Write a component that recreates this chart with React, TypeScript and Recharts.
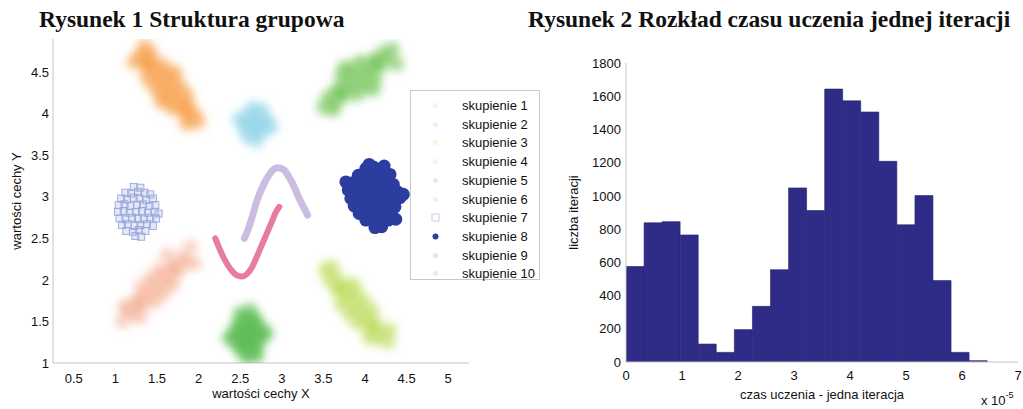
import React from "react";
import { ScatterChart, Scatter, BarChart, Bar, XAxis, YAxis, Legend, Label } from "recharts";

// ---- Rysunek 1: clusters ----
const clusterNames = [
  "skupienie 1", "skupienie 2", "skupienie 3", "skupienie 4", "skupienie 5",
  "skupienie 6", "skupienie 7", "skupienie 8", "skupienie 9", "skupienie 10",
];
const clusterColors = [
  "#8fd4e8", "#f59a45", "#b7d94e", "#c5b6de", "#e66d99",
  "#f4a88c", "#98a8dc", "#2b3d9e", "#52b84a", "#6cc24f",
];

const cluster1 = [
  [2.64, 3.74], [2.72, 3.74],
  [2.56, 3.81], [2.64, 3.81], [2.72, 3.81], [2.8, 3.81],
  [2.52, 3.88], [2.6, 3.88], [2.68, 3.88], [2.76, 3.88], [2.84, 3.88],
  [2.56, 3.95], [2.64, 3.95], [2.72, 3.95], [2.8, 3.95],
  [2.62, 4.02], [2.7, 4.02],
  [2.7, 3.66], [2.48, 3.95], [2.88, 3.84], [2.66, 4.08], [2.78, 4.05], [2.58, 3.72],
];
const cluster2 = [
  [1.284, 4.676], [1.346, 4.726],
  [1.36, 4.583], [1.391, 4.608], [1.422, 4.633],
  [1.375, 4.44], [1.437, 4.491], [1.499, 4.541], [1.561, 4.592],
  [1.451, 4.347], [1.513, 4.398], [1.575, 4.448], [1.637, 4.499],
  [1.527, 4.254], [1.589, 4.305], [1.651, 4.355], [1.713, 4.406],
  [1.603, 4.161], [1.665, 4.212], [1.727, 4.262], [1.789, 4.313],
  [1.679, 4.068], [1.741, 4.119], [1.803, 4.169], [1.865, 4.22],
  [1.818, 4.027], [1.849, 4.052], [1.88, 4.077],
  [1.894, 3.934], [1.956, 3.984],
  [1.22, 4.62], [1.35, 4.82], [1.72, 4.5], [1.55, 4.15], [2.0, 3.9], [1.85, 3.88], [1.42, 4.73],
];
const cluster3 = [
  [3.579, 1.988], [3.641, 2.04],
  [3.676, 1.874], [3.707, 1.9], [3.738, 1.926],
  [3.711, 1.708], [3.772, 1.759], [3.834, 1.811], [3.895, 1.862],
  [3.808, 1.593], [3.869, 1.644], [3.931, 1.696], [3.992, 1.747],
  [3.905, 1.478], [3.966, 1.529], [4.028, 1.581], [4.089, 1.632],
  [4.062, 1.414], [4.093, 1.44], [4.124, 1.466],
  [4.159, 1.3], [4.221, 1.352],
  [3.52, 2.12], [3.6, 2.16], [4.28, 1.25], [4.3, 1.4], [3.85, 1.95], [4.05, 1.3],
];
const cluster4 = [
  [2.55, 2.5], [2.6, 2.62], [2.65, 2.78], [2.7, 2.95], [2.76, 3.1], [2.82, 3.22], [2.88, 3.31],
  [2.95, 3.35], [3.02, 3.33], [3.08, 3.25], [3.14, 3.14], [3.2, 3.0], [3.26, 2.88], [3.31, 2.78],
];
const cluster5 = [
  [2.2, 2.5], [2.25, 2.38], [2.3, 2.27], [2.35, 2.18], [2.4, 2.11], [2.45, 2.06], [2.52, 2.04],
  [2.58, 2.07], [2.64, 2.15], [2.7, 2.28], [2.76, 2.42], [2.82, 2.56], [2.88, 2.7], [2.93, 2.82], [2.97, 2.88],
];
const cluster6 = [
  [1.206, 1.587], [1.15, 1.645],
  [1.313, 1.692], [1.285, 1.721], [1.257, 1.75],
  [1.477, 1.739], [1.421, 1.796], [1.365, 1.854], [1.309, 1.911],
  [1.584, 1.844], [1.528, 1.901], [1.472, 1.959], [1.416, 2.016],
  [1.691, 1.949], [1.635, 2.006], [1.579, 2.064], [1.523, 2.121],
  [1.743, 2.11], [1.715, 2.139], [1.687, 2.168],
  [1.85, 2.215], [1.794, 2.273],
  [1.08, 1.5], [1.12, 1.68], [1.9, 2.4], [1.95, 2.2], [1.3, 1.55], [1.62, 2.3],
];
const cluster7 = [
  [1.22, 3.12], [1.3, 3.11],
  [1.12, 3.05], [1.19, 3.04], [1.27, 3.06], [1.35, 3.05], [1.42, 3.03],
  [1.07, 2.98], [1.14, 2.97], [1.22, 2.99], [1.29, 2.98], [1.37, 2.96], [1.45, 2.98],
  [1.04, 2.9], [1.11, 2.91], [1.18, 2.89], [1.26, 2.9], [1.33, 2.91], [1.41, 2.89], [1.48, 2.9],
  [1.03, 2.82], [1.1, 2.83], [1.17, 2.81], [1.25, 2.82], [1.32, 2.83], [1.39, 2.81], [1.47, 2.82], [1.52, 2.8],
  [1.05, 2.74], [1.12, 2.73], [1.2, 2.75], [1.27, 2.74], [1.34, 2.73], [1.42, 2.75], [1.49, 2.74],
  [1.08, 2.66], [1.15, 2.67], [1.23, 2.65], [1.3, 2.66], [1.38, 2.67], [1.45, 2.65],
  [1.13, 2.59], [1.21, 2.58], [1.28, 2.6], [1.36, 2.59],
  [1.24, 2.53], [1.31, 2.52],
];
const cluster8 = [
  [4.01, 3.34], [4.1, 3.36], [4.19, 3.33],
  [3.92, 3.26], [4.02, 3.25], [4.11, 3.27], [4.21, 3.25], [4.3, 3.27],
  [3.85, 3.17], [3.95, 3.16], [4.05, 3.18], [4.15, 3.16], [4.24, 3.17], [4.34, 3.15],
  [3.8, 3.08], [3.9, 3.07], [4.0, 3.08], [4.1, 3.06], [4.2, 3.08], [4.29, 3.07], [4.39, 3.06],
  [3.83, 2.98], [3.93, 2.99], [4.03, 2.97], [4.13, 2.99], [4.23, 2.98], [4.33, 2.97], [4.42, 2.99],
  [3.87, 2.89], [3.96, 2.9], [4.06, 2.88], [4.16, 2.9], [4.26, 2.89], [4.36, 2.88],
  [3.93, 2.8], [4.03, 2.81], [4.12, 2.79], [4.22, 2.81], [4.32, 2.8],
  [4.01, 2.72], [4.1, 2.71], [4.19, 2.73], [4.28, 2.72],
  [4.12, 2.63], [4.2, 2.64],
  [3.77, 3.18], [4.46, 3.03], [4.37, 2.73], [4.05, 3.39], [4.23, 3.37],
];
const cluster9 = [
  [2.52, 1.14], [2.6, 1.14], [2.68, 1.14],
  [2.46, 1.22], [2.54, 1.22], [2.62, 1.22], [2.7, 1.22],
  [2.43, 1.3], [2.51, 1.3], [2.59, 1.3], [2.67, 1.3], [2.75, 1.3],
  [2.44, 1.38], [2.52, 1.38], [2.6, 1.38], [2.68, 1.38], [2.76, 1.38],
  [2.47, 1.46], [2.55, 1.46], [2.63, 1.46], [2.71, 1.46],
  [2.53, 1.54], [2.61, 1.54], [2.68, 1.54],
  [2.58, 1.06], [2.62, 1.64], [2.36, 1.3], [2.82, 1.36], [2.7, 1.08], [2.5, 1.6],
];
const cluster10 = [
  [3.624, 4.129], [3.564, 4.201],
  [3.733, 4.217], [3.703, 4.253], [3.673, 4.289],
  [3.899, 4.233], [3.841, 4.306], [3.781, 4.378], [3.723, 4.451],
  [4.008, 4.321], [3.95, 4.394], [3.89, 4.466], [3.832, 4.539],
  [4.117, 4.409], [4.059, 4.482], [3.999, 4.554], [3.941, 4.627],
  [4.167, 4.571], [4.137, 4.607], [4.107, 4.643],
  [4.276, 4.659], [4.216, 4.731],
  [3.5, 4.08], [3.62, 4.05], [4.33, 4.78], [4.38, 4.6], [3.75, 4.55], [4.1, 4.3],
];

const xTicks1 = [0.5, 1, 1.5, 2, 2.5, 3, 3.5, 4, 4.5, 5];
const yTicks1 = [1, 1.5, 2, 2.5, 3, 3.5, 4, 4.5];

// ---- Rysunek 2: histogram ----
const binCenters = [
  0.161, 0.484, 0.806, 1.129, 1.451, 1.774, 2.096, 2.419, 2.741, 3.064,
  3.386, 3.709, 4.031, 4.354, 4.676, 4.999, 5.321, 5.644, 5.966, 6.289,
];
const iterationCounts = [
  575, 838, 845, 765, 108, 58, 195, 335, 556, 1048,
  912, 1643, 1572, 1505, 1208, 826, 1002, 490, 58, 8,
];
const xTicks2 = [0, 1, 2, 3, 4, 5, 6, 7];
const yTicks2 = [0, 200, 400, 600, 800, 1000, 1200, 1400, 1600, 1800];

const toPoints = (arr: number[][]) => arr.map(([x, y]) => ({ x, y }));
const histData = binCenters.map((center, i) => ({ center, count: iterationCounts[i] }));

const AXIS_GRAY = "#c4c4c4";
const tickFont = { fontSize: 13, fill: "#111" };

// soft cloud marker (blurred) and crisp markers
const cloud = (color: string, r: number, op: number) => (p: any) =>
  <circle cx={p.cx} cy={p.cy} r={r} fill={color} fillOpacity={op} filter="url(#soft)" />;
const dot = (color: string, r: number) => (p: any) =>
  <circle cx={p.cx} cy={p.cy} r={r} fill={color} />;
const square = (color: string) => (p: any) =>
  <rect x={p.cx - 3.5} y={p.cy - 3.5} width={7} height={7} fill={color} fillOpacity={0.25} stroke={color} strokeWidth={0.9} />;
const noMark = () => <g />;

function ClusterLegend() {
  return (
    <div style={{ width: 128, height: 188, border: "1px solid #c8c8c8", background: "#fff", position: "relative", fontSize: 13, color: "#111" }}>
      {clusterNames.map((name, i) => {
        const top = 6 + i * 18.7;
        const c = clusterColors[i];
        let marker;
        if (i === 6) marker = <rect x={3} y={3} width={7} height={7} fill="none" stroke="#c8cde6" strokeWidth={1} />;
        else if (i === 7) marker = <circle cx={6.5} cy={6.5} r={3} fill={c} />;
        else marker = <circle cx={6.5} cy={6.5} r={2.5} fill={c} fillOpacity={0.22} />;
        return (
          <div key={name} style={{ position: "absolute", left: 0, top, height: 18, width: 128 }}>
            <svg width={13} height={13} style={{ position: "absolute", left: 18, top: 2 }}>{marker}</svg>
            <span style={{ position: "absolute", left: 51, top: 0, lineHeight: "17px", whiteSpace: "nowrap" }}>{name}</span>
          </div>
        );
      })}
    </div>
  );
}

function ClusterChart() {
  return (
    <ScatterChart width={545} height={409} margin={{ top: 39, right: 76, bottom: 6, left: 13 }}>
      <XAxis type="number" dataKey="x" domain={[0.25, 5.25]} ticks={xTicks1} allowDataOverflow interval={0}
        height={40} axisLine={{ stroke: AXIS_GRAY }} tickLine={false} tickSize={0} tickMargin={11} tick={tickFont}>
        <Label value="wartości cechy X" position="insideBottom" offset={5} style={{ fontSize: 13, fill: "#111" }} />
      </XAxis>
      <XAxis xAxisId="in" type="number" domain={[0.25, 5.25]} ticks={xTicks1} allowDataOverflow interval={0}
        mirror height={0} tick={false} tickSize={4} tickLine={{ stroke: "#aaa" }} axisLine={false} />
      <YAxis type="number" dataKey="y" domain={[1, 4.9]} ticks={yTicks1} allowDataOverflow interval={0}
        width={40} axisLine={{ stroke: AXIS_GRAY }} tickLine={false} tickSize={0} tickMargin={4} tick={tickFont}>
        <Label value="wartości cechy Y" angle={-90} position="insideLeft" offset={3} style={{ fontSize: 13, fill: "#111", textAnchor: "middle" }} />
      </YAxis>
      <YAxis yAxisId="in" type="number" domain={[1, 4.9]} ticks={yTicks1} allowDataOverflow interval={0}
        mirror width={0} tick={false} tickSize={4} tickLine={{ stroke: "#aaa" }} axisLine={false} />
      <Legend layout="vertical" align="center" verticalAlign="middle" content={() => <ClusterLegend />}
        wrapperStyle={{ left: 410, top: 90, width: 130, height: 190 }} />

      <Scatter name={clusterNames[1]} data={toPoints(cluster2)} shape={cloud(clusterColors[1], 7.5, 0.55)} isAnimationActive={false} />
      <Scatter name={clusterNames[9]} data={toPoints(cluster10)} shape={cloud(clusterColors[9], 7.5, 0.6)} isAnimationActive={false} />
      <Scatter name={clusterNames[0]} data={toPoints(cluster1)} shape={cloud(clusterColors[0], 7, 0.5)} isAnimationActive={false} />
      <Scatter name={clusterNames[6]} data={toPoints(cluster7)} shape={square(clusterColors[6])} isAnimationActive={false} />
      <Scatter name={clusterNames[5]} data={toPoints(cluster6)} shape={cloud(clusterColors[5], 7.5, 0.5)} isAnimationActive={false} />
      <Scatter name={clusterNames[8]} data={toPoints(cluster9)} shape={cloud(clusterColors[8], 7, 0.6)} isAnimationActive={false} />
      <Scatter name={clusterNames[2]} data={toPoints(cluster3)} shape={cloud(clusterColors[2], 7.5, 0.55)} isAnimationActive={false} />
      <Scatter name={clusterNames[7]} data={toPoints(cluster8)} shape={dot(clusterColors[7], 6.5)} isAnimationActive={false} />
      <Scatter name={clusterNames[3]} data={toPoints(cluster4)} shape={noMark} lineJointType="monotoneX"
        line={{ stroke: clusterColors[3], strokeWidth: 7, strokeLinecap: "round", strokeOpacity: 0.9 }} isAnimationActive={false} />
      <Scatter name={clusterNames[4]} data={toPoints(cluster5)} shape={noMark} lineJointType="monotoneX"
        line={{ stroke: clusterColors[4], strokeWidth: 6, strokeLinecap: "round", strokeOpacity: 0.9 }} isAnimationActive={false} />
    </ScatterChart>
  );
}

function HistogramChart() {
  return (
    <BarChart width={483} height={409} data={histData} margin={{ top: 63, right: 5, bottom: 2, left: 30 }} barCategoryGap={0} barGap={0}>
      <XAxis type="number" dataKey="center" domain={[0, 7]} ticks={xTicks2} allowDataOverflow interval={0}
        height={45} axisLine={{ stroke: AXIS_GRAY }} tickLine={false} tickSize={0} tickMargin={9} tick={tickFont}>
        <Label value="czas uczenia  - jedna iteracja" position="insideBottom" offset={8} style={{ fontSize: 13, fill: "#111", whiteSpace: "pre" }} />
      </XAxis>
      <XAxis xAxisId="in" type="number" domain={[0, 7]} ticks={xTicks2} allowDataOverflow interval={0}
        mirror height={0} tick={false} tickSize={4} tickLine={{ stroke: "#aaa" }} axisLine={false} />
      <XAxis xAxisId="top" orientation="top" type="number" domain={[0, 7]} ticks={xTicks2} allowDataOverflow interval={0}
        mirror height={0} tick={false} tickSize={4} tickLine={{ stroke: "#aaa" }} axisLine={{ stroke: AXIS_GRAY }} />
      <YAxis type="number" domain={[0, 1800]} ticks={yTicks2} allowDataOverflow interval={0}
        width={56} axisLine={{ stroke: AXIS_GRAY }} tickLine={false} tickSize={0} tickMargin={5} tick={tickFont}>
        <Label value="liczba iteracji" angle={-90} position="insideLeft" offset={3} style={{ fontSize: 13, fill: "#111", textAnchor: "middle" }} />
      </YAxis>
      <YAxis yAxisId="in" type="number" domain={[0, 1800]} ticks={yTicks2} allowDataOverflow interval={0}
        mirror width={0} tick={false} tickSize={4} tickLine={{ stroke: "#aaa" }} axisLine={false} />
      <YAxis yAxisId="right" orientation="right" type="number" domain={[0, 1800]} ticks={yTicks2} allowDataOverflow interval={0}
        mirror width={0} tick={false} tickSize={4} tickLine={{ stroke: "#aaa" }} axisLine={{ stroke: AXIS_GRAY }} />
      <Bar dataKey="count" fill="#2e2c87" stroke="#25236f" strokeWidth={0.6} isAnimationActive={false} />
    </BarChart>
  );
}

const titleStyle = (left: number): React.CSSProperties => ({
  position: "absolute", left, top: 8, fontFamily: "'Liberation Serif', 'Times New Roman', serif",
  fontWeight: "bold", fontSize: 23.5, lineHeight: "23.5px", whiteSpace: "nowrap", color: "#111",
});

export default function App() {
  return (
    <div style={{ position: "absolute", left: 0, top: 0, width: 1023, height: 409, background: "#fff", overflow: "hidden", fontFamily: "'Liberation Sans', Arial, sans-serif" }}>
      <svg width={0} height={0} style={{ position: "absolute" }}>
        <defs>
          <filter id="soft" x="-100%" y="-100%" width="300%" height="300%">
            <feGaussianBlur stdDeviation="4" />
          </filter>
        </defs>
      </svg>
      <div style={titleStyle(39)}>Rysunek 1 Struktura grupowa</div>
      <div style={titleStyle(528)}>Rysunek 2 Rozkład czasu uczenia jednej iteracji</div>
      <div style={{ position: "absolute", left: 0, top: 0 }}>
        <ClusterChart />
      </div>
      <div style={{ position: "absolute", left: 540, top: 0 }}>
        <HistogramChart />
      </div>
      <div style={{ position: "absolute", left: 981, top: 394, fontSize: 13, lineHeight: "13px", color: "#111", whiteSpace: "nowrap" }}>
        x 10<span style={{ fontSize: 9, position: "relative", top: -7 }}>-5</span>
      </div>
    </div>
  );
}
